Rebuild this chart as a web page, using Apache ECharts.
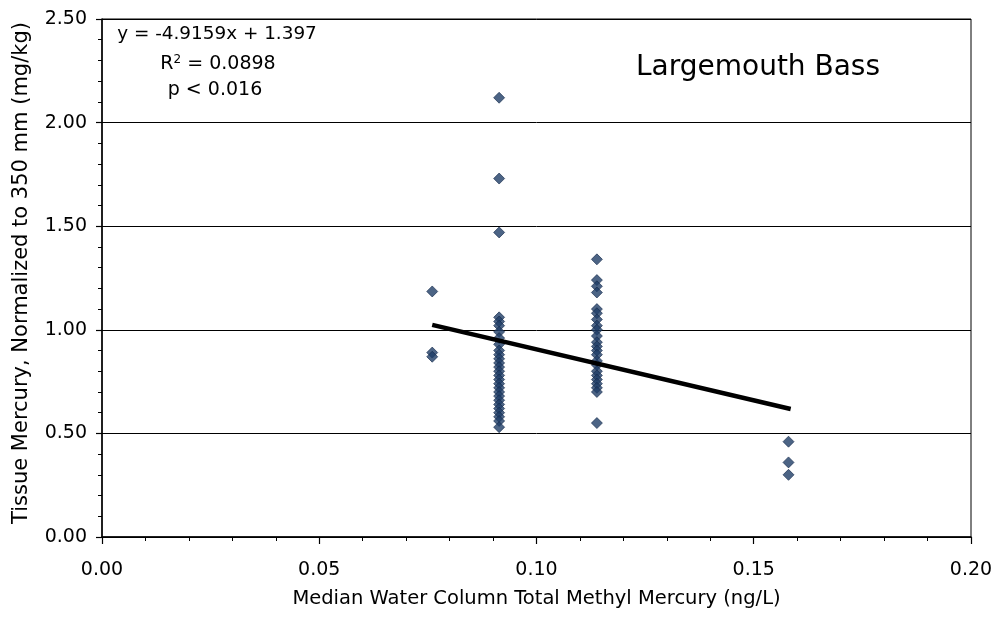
<!DOCTYPE html>
<html>
<head>
<meta charset="utf-8">
<script src="https://cdn.jsdelivr.net/npm/echarts@6/dist/echarts.min.js"></script>
<style>
html,body{margin:0;padding:0;background:#fff;}
#c{width:1000px;height:625px;}
</style>
</head>
<body>
<div id="c"></div>
<script>
// ---- data ----
var xTicks = [0.00, 0.05, 0.10, 0.15, 0.20];
var yTicks = [0.00, 0.50, 1.00, 1.50, 2.00, 2.50];
var site1X = 0.076;
var site1Y = [1.185, 0.89, 0.87];
var site2X = 0.0914;
var site2Y = [2.12, 1.73, 1.47, 1.06, 1.04, 1.02, 0.99, 0.96, 0.93, 0.90, 0.88, 0.86, 0.84, 0.82, 0.80, 0.78, 0.76, 0.74, 0.72, 0.70, 0.68, 0.66, 0.64, 0.62, 0.60, 0.58, 0.56, 0.53];
var site3X = 0.1139;
var site3Y = [1.34, 1.24, 1.21, 1.18, 1.10, 1.08, 1.05, 1.02, 1.00, 0.97, 0.94, 0.92, 0.90, 0.88, 0.85, 0.83, 0.80, 0.78, 0.76, 0.74, 0.72, 0.70, 0.55];
var site4X = 0.158;
var site4Y = [0.46, 0.36, 0.30];
var trendX = [0.076, 0.1585];
var trendY = [1.024, 0.618];
var eqLines = ['y = -4.9159x + 1.397', 'R{sup|2} = 0.0898', 'p < 0.016'];
var speciesLabel = 'Largemouth Bass';
var xName = 'Median Water Column Total Methyl Mercury (ng/L)';
var yName = 'Tissue Mercury, Normalized to 350 mm (mg/kg)';

function pts(x, ys){ return ys.map(function(y){ return [x, y]; }); }
var points = [].concat(pts(site1X, site1Y), pts(site2X, site2Y), pts(site3X, site3Y), pts(site4X, site4Y));
var trend = trendX.map(function(x, i){ return [x, trendY[i]]; });

var FONT = 'DejaVu Sans';
function txt(text, x, y, size, align, vAlign, extra){
  var st = {text: text, x: x, y: y, align: align, verticalAlign: vAlign, textAlign: align, textVerticalAlign: vAlign,
    fontSize: size, fontFamily: FONT, fill: '#000'};
  if (extra) for (var k in extra) st[k] = extra[k];
  return {type: 'text', style: st, z: 10};
}
var chart = echarts.init(document.getElementById('c'), null, {renderer: 'canvas'});
chart.setOption({
  animation: false,
  backgroundColor: '#fff',
  textStyle: {fontFamily: FONT, color: '#000'},
  grid: {left: 102, right: 29, top: 19, bottom: 88, show: true, borderColor: '#000', borderWidth: 1, backgroundColor: 'transparent'},
  xAxis: {
    type: 'value', min: xTicks[0], max: xTicks[xTicks.length - 1], interval: 0.05,
    name: xName, nameLocation: 'middle', nameGap: 52,
    nameTextStyle: {fontFamily: FONT, fontSize: 19.5, color: '#000'},
    axisLine: {show: true, lineStyle: {color: '#000', width: 1.5}},
    axisTick: {show: true, inside: false, length: 7, lineStyle: {color: '#000', width: 1.2}},
    minorTick: {show: true, splitNumber: 5, length: 4, lineStyle: {color: '#000', width: 1}},
    splitLine: {show: false},
    axisLabel: {margin: 24, fontFamily: FONT, fontSize: 19, color: '#000',
      formatter: function(v){ return v.toFixed(2); }}
  },
  yAxis: {
    type: 'value', min: yTicks[0], max: yTicks[yTicks.length - 1], interval: 0.5,
    name: yName, nameLocation: 'middle', nameGap: 70,
    nameTextStyle: {fontFamily: FONT, fontSize: 21, color: '#000', padding: [0, 0, 0, 10]},
    axisLine: {show: true, lineStyle: {color: '#000', width: 1.5}},
    axisTick: {show: true, inside: false, length: 6, lineStyle: {color: '#000', width: 1.2}},
    minorTick: {show: true, splitNumber: 5, length: 4, lineStyle: {color: '#000', width: 1}},
    splitLine: {show: true, lineStyle: {color: '#000', width: 1}},
    axisLabel: {margin: 15, fontFamily: FONT, fontSize: 19, color: '#000',
      formatter: function(v){ return v.toFixed(2); }}
  },
  series: [
    {
      type: 'scatter', data: points, symbol: 'diamond', symbolSize: 11,
      itemStyle: {color: '#1f3d66', borderColor: '#14294a', borderWidth: 0.8},
      z: 3
    },
    {
      type: 'line', data: trend, showSymbol: false, symbol: 'none',
      lineStyle: {color: '#000', width: 4.5}, z: 4
    }
  ],
  graphic: [
    txt(eqLines[0], 217, 43, 18.4, 'center', 'bottom'),
    txt(eqLines[1], 218, 74, 19, 'center', 'bottom', {rich: {sup: {fontSize: 12, verticalAlign: 'top', padding: [0, 0, 8, 0], fontFamily: FONT}}}),
    txt(eqLines[2], 215, 100, 19, 'center', 'bottom'),
    txt(speciesLabel, 758, 68, 28, 'center', 'middle')
  ]
});
</script>
</body>
</html>
